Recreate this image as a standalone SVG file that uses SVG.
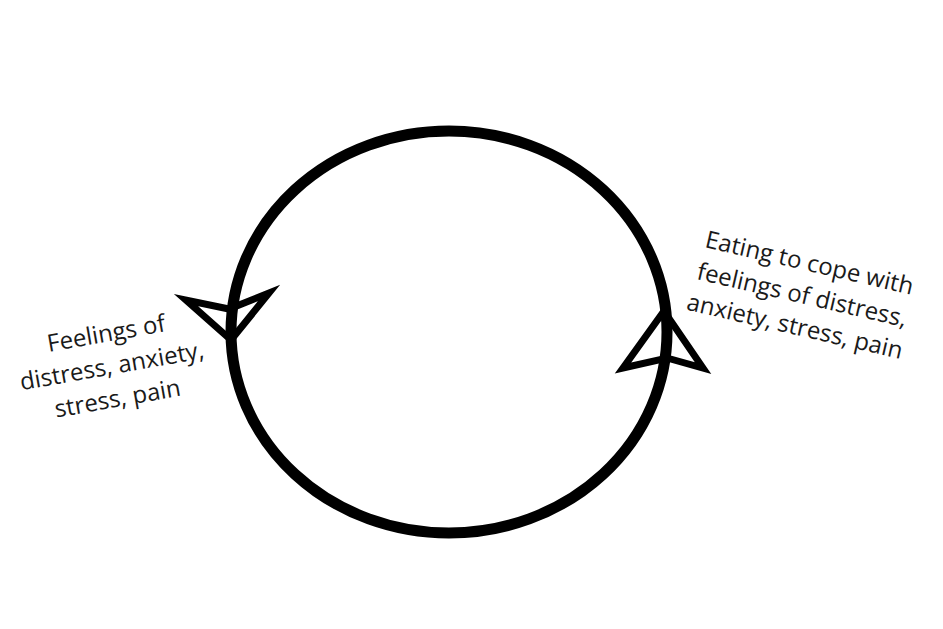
<svg xmlns="http://www.w3.org/2000/svg" width="943" height="629" viewBox="0 0 943 629">
<style>
.lbl{font-family:"Open Sans","Noto Sans","Liberation Sans",sans-serif;font-size:24px;fill:#1a1a1a;text-anchor:middle}
.arr{fill:none;stroke:#000;stroke-width:7;stroke-linejoin:miter}
</style>
<rect width="943" height="629" fill="#fff"/>
<g id="connectors">
<ellipse cx="449" cy="332" rx="218" ry="201" fill="none" stroke="#000" stroke-width="11"/>
<polygon class="arr" points="231,340 186,300 229,309 269,293"/>
<polygon class="arr" points="664,311 623,368 667,358 703,368"/>
</g>
<g id="node-feelings" transform="translate(114,378) rotate(-10)">
<text class="lbl" x="0" y="-37">Feelings of</text>
<text class="lbl" x="0" y="-4">distress, anxiety,</text>
<text class="lbl" x="0" y="29">stress, pain</text>
</g>
<g id="node-eating" transform="translate(800,304) rotate(13)">
<text class="lbl" x="0" y="-34">Eating to cope with</text>
<text class="lbl" x="0" y="-1">feelings of distress,</text>
<text class="lbl" x="0" y="31">anxiety, stress, pain</text>
</g>
</svg>
